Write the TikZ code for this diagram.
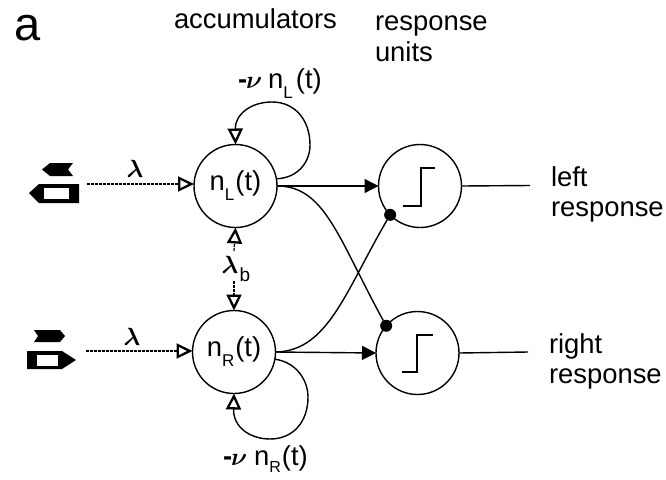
\documentclass[tikz,border=0pt]{standalone}
\usepackage{fontspec}
\usepackage{amsmath,amssymb}
\setmainfont{Liberation Sans}
\usetikzlibrary{arrows.meta}
\newcommand{\lblfont}{\fontsize{27.4}{30}\selectfont}
\newcommand{\sbs}[1]{\raisebox{-10pt}{\fontsize{17}{17}\selectfont #1}}
\newcommand{\sbsb}[1]{\raisebox{-7pt}{\fontsize{16}{16}\selectfont #1}}
\tikzset{
  unitc/.style={circle,draw=black,line width=1.4pt,minimum size=83pt,inner sep=0pt,outer sep=0pt,font=\lblfont},
  lbl/.style={inner sep=0pt,outer sep=0pt,font=\lblfont},
  lbase/.style={lbl,anchor=base west},
  biglam/.style={lbl,font=\fontsize{33}{36}\selectfont},
  opentip/.style={-{Triangle[open,fill=white,length=16pt,width=15pt,line width=2.3pt]}},
  soltip/.style={-{Triangle[length=14pt,width=14pt]}},
  conn/.style={line width=1.4pt,black},
  inh/.style={circle,fill=black,minimum size=12pt,inner sep=0pt,outer sep=0pt},
  dotted line/.style={line width=1.2pt,dash pattern=on 3pt off 1pt,black},
  iconshape/.style={fill=black,draw=none},
  iconhole/.style={fill=white,draw=none},
  stepline/.style={line width=1.7pt,black}
}
\begin{document}
\begin{tikzpicture}[x=1pt,y=-1pt]
\useasboundingbox (0,0) rectangle (666,479);
% nodes
\node[unitc] (nL) at (235.5,186) {n\sbs{L}\kern1pt(t)};
\node[unitc] (nR) at (234,352) {n\sbs{R}\kern1pt(t)};
\node[unitc] (rT) at (420,186) {};
\node[unitc] (rB) at (417.5,353) {};
\node[inh] (dT) at (rT.224) {};
\node[inh] (dB) at (rB.139) {};
% text
\node[lbase,font=\fontsize{47}{50}\selectfont] (ta) at (14,40) {a};
\node[lbase] (tacc) at (174,28) {accumulators};
\node[lbase] (tres) at (375,30) {response};
\node[lbase] (tuni) at (375,61) {units};
\node[lbase] (tleft) at (551,186) {left};
\node[lbase] (tlr) at (551,216) {response};
\node[lbase] (tright) at (549,353) {right};
\node[lbase] (trr) at (549,383) {response};
\node[lbase] (tnuL) at (238,88) {\textbf{-}\kern-1pt$\boldsymbol{\nu}$\kern6pt n\sbs{L}\kern3pt(t)};
\node[lbase] (tnuR) at (223,465) {\textbf{-}\kern-1pt$\boldsymbol{\nu}$\kern7pt n\sbsb{R}\kern1pt(t)};
\node[biglam] (l1) at (135,169) {$\boldsymbol{\lambda}$};
\node[biglam] (l2) at (132,337) {$\boldsymbol{\lambda}$};
\node[biglam] (lb) at (230,265) {$\boldsymbol{\lambda}$};
\node[lbl,font=\fontsize{19}{19}\selectfont] (lbs) at (245,275) {b};
% icons
\fill[iconshape] (42,169.5) -- (50,163) -- (73,163) -- (68,169.5) -- (73,176) -- (50,176) -- cycle;
\fill[iconshape] (29,193) -- (39,184) -- (79,184) -- (79,203) -- (39,203) -- cycle;
\fill[iconhole] (44,188) rectangle (69,199);
\fill[iconshape] (65,336) -- (60,330) -- (34,330) -- (38,336) -- (34,342) -- (60,342) -- cycle;
\fill[iconshape] (76,360) -- (62,351) -- (27,351) -- (27,369) -- (62,369) -- cycle;
\fill[iconhole] (37,355) rectangle (58,366);
\coordinate (iT) at (87,184);
\coordinate (iB) at (86,351);
\coordinate (eT) at (530,185.5);
\coordinate (eB) at (528,352);
\coordinate (lbT) at (234,251);
\coordinate (lbB) at (234,281);
% inputs
\draw[dotted line,opentip] (iT) -- (nL.west |- iT);
\draw[dotted line,opentip] (iB) -- (nR.west |- iB);
% lateral inhibition
\draw[dotted line,opentip] (lbT) -- (nL.south);
\draw[dotted line,opentip] (lbB) -- (nR.north);
% self loops
\draw[conn,opentip] (nL.10) .. controls (298,178) and (310,162) .. (310,145)
  .. controls (310,120) and (295,102) .. (272,102)
  .. controls (250,102) and (235,115) .. (nL.north);
\draw[conn,opentip] (nR.-10) .. controls (296,362) and (308,380) .. (308,397)
  .. controls (308,422) and (293,439) .. (270,439)
  .. controls (250,439) and (233,427) .. (nR.south);
% to response units
\draw[conn,soltip] (nL.east) -- (rT.west);
\draw[conn,soltip] (nR.east) -- (rB.west);
\draw[conn] (nL.east) .. controls (325,186) and (338,238) .. (dB);
\draw[conn] (nR.east) .. controls (328,351) and (345,292) .. (dT);
\draw[conn] (rT.east) -- (eT);
\draw[conn] (rB.east) -- (eB);
% step functions
\draw[stepline] (403,206) -- (421,206) -- (421,168) -- (435,168);
\draw[stepline] (402,372) -- (417,372) -- (417,335) -- (433,335);
\end{tikzpicture}
\end{document}
